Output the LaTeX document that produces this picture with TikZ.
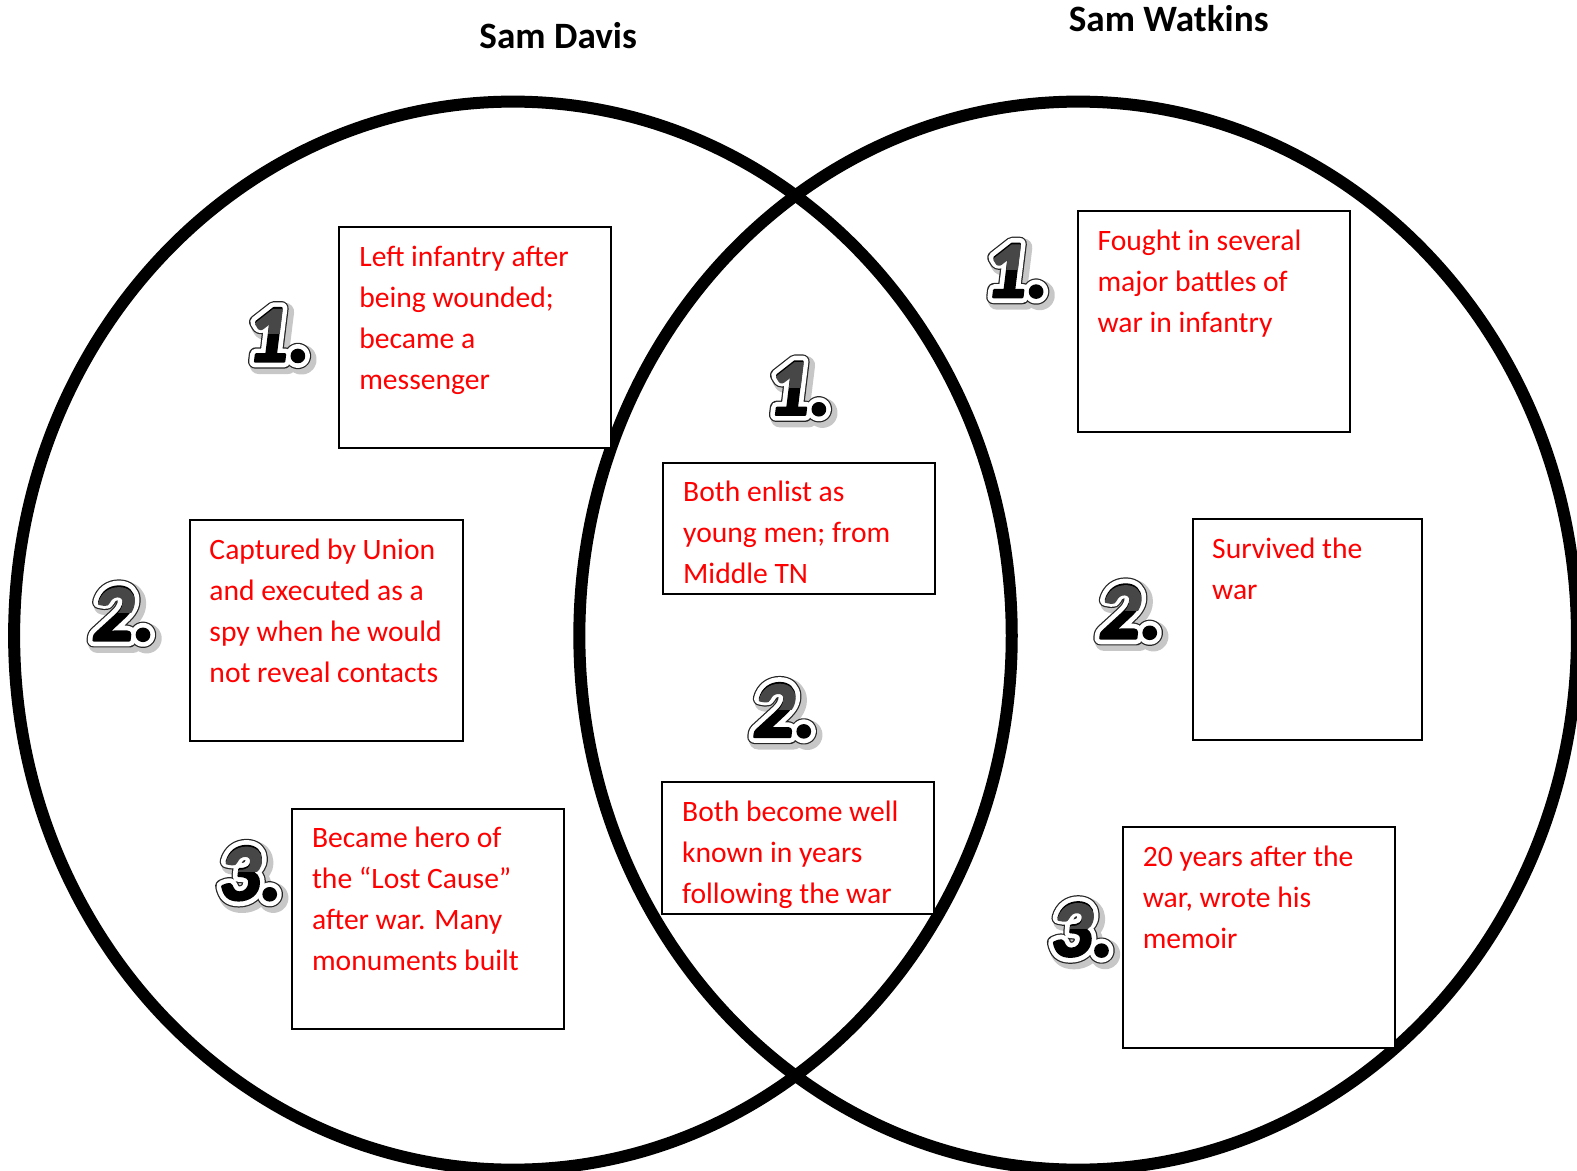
\documentclass[tikz,border=0pt]{standalone}
\usepackage{fontspec}
\setmainfont{Carlito}
\newfontface\numplain{Carlito Bold Italic}[FakeBold=3]
\newfontface\numshade{Carlito Bold Italic}[FakeBold=22]
\newfontface\numrim{Carlito Bold Italic}[FakeBold=17.5]
\newfontface\numring{Carlito Bold Italic}[FakeBold=14.5]
\usetikzlibrary{positioning}

\tikzset{
  vennring/.style={line width=6pt},
  infobox/.style={draw, line width=1pt, fill=white, inner sep=0pt, anchor=north west},
  boxtext/.style={text=red, align=left, inner sep=0pt,
                  font=\fontsize{14.8}{20.5}\selectfont, execute at begin node=\strut},
  vtitle/.style={font=\bfseries\fontsize{18.6}{22}\selectfont, anchor=base},
  numstyle/.style={font=\fontsize{41}{41}\selectfont, inner sep=0pt, line join=round}
}

% outlined big numeral: shadow, dark rim, white rim, black glyph
\newcommand{\numface}[1]{%
  \rlap{\kern1.8pt\raisebox{-1.8pt}{\numshade\textcolor{black!22}{#1}}}%
  \rlap{\numrim\textcolor{black!85}{#1}}%
  \rlap{\numring\textcolor{white}{#1}}%
  {\numplain #1}}
\newcommand{\vennnum}[3]{%
  \node[numstyle] (#1) at (#2) {\numface{#3}};
  \begin{scope}
    \clip ([xshift=-10pt,yshift=1.5pt]#1.west) rectangle ([xshift=10pt,yshift=10pt]#1.north east);
    \node[numstyle, text=black!72] (#1g) at (#1.center) {\numplain #3};
  \end{scope}}

\begin{document}
\begin{tikzpicture}[x=0.50285pt, y=-0.50285pt]
  \useasboundingbox (0,0) rectangle (1568,1163.4);

  % titles
  \node[vtitle] (davis) at (555,48) {Sam Davis};
  \node[vtitle] (watkins) at (1162,31) {Sam Watkins};

  % the two rings
  \draw[vennring] (510,632) ellipse [x radius=249.4pt, y radius=267pt];
  \draw[vennring] (1072,632) ellipse [x radius=249.4pt, y radius=267pt];

  % Sam Davis
  \node[infobox, minimum width=136pt, minimum height=110.3pt] (l1) at (336,225) {};
  \node[boxtext, below right=9.7pt and 10.5pt of l1.north west, anchor=north west] (l1t)
    {Left infantry after\\being wounded;\\became a\\messenger};
  \node[infobox, minimum width=136.3pt, minimum height=110.3pt] (l2) at (188,516) {};
  \node[boxtext, below right=9.7pt and 10pt of l2.north west, anchor=north west] (l2t)
    {Captured by Union\\and executed as a\\spy when he would\\not reveal contacts};
  \node[infobox, minimum width=136.3pt, minimum height=110.3pt] (l3) at (289,803) {};
  \node[boxtext, below right=9.7pt and 10.5pt of l3.north west, anchor=north west] (l3t)
    {Became hero of\\the “Lost Cause”\\after war. Many\\monuments built};

  % both
  \node[infobox, minimum width=136pt, minimum height=65.5pt] (m1) at (658,459) {};
  \node[boxtext, below right=9.7pt and 10.5pt of m1.north west, anchor=north west] (m1t)
    {Both enlist as\\young men; from\\Middle TN};
  \node[infobox, minimum width=136pt, minimum height=66pt] (m2) at (657,777) {};
  \begin{scope}
    \clip (m2.north west) rectangle ([yshift=2.5pt]m2.south east);
    \node[boxtext, below right=9.7pt and 10.5pt of m2.north west, anchor=north west] (m2t)
      {Both become well\\known in years\\following the war};
  \end{scope}

  % Sam Watkins
  \node[infobox, minimum width=136pt, minimum height=110.6pt] (r1) at (1071,209) {};
  \node[boxtext, below right=9.7pt and 10pt of r1.north west, anchor=north west] (r1t)
    {Fought in several\\major battles of\\war in infantry};
  \node[infobox, minimum width=114.8pt, minimum height=110.3pt] (r2) at (1185,515) {};
  \node[boxtext, below right=9.7pt and 10pt of r2.north west, anchor=north west] (r2t)
    {Survived the\\war};
  \node[infobox, minimum width=136pt, minimum height=110.6pt] (r3) at (1116,821) {};
  \node[boxtext, below right=9.7pt and 10pt of r3.north west, anchor=north west] (r3t)
    {20 years after the\\war, wrote his\\memoir};

  % numerals
  \vennnum{nl1}{277,335}{1.}
  \vennnum{nl2}{123,612}{2.}
  \vennnum{nl3}{249,870}{3.}
  \vennnum{nm1}{795,388}{1.}
  \vennnum{nm2}{780,708}{2.}
  \vennnum{nr1}{1011,271}{1.}
  \vennnum{nr2}{1124,610}{2.}
  \vennnum{nr3}{1076,926}{3.}
\end{tikzpicture}
\end{document}
